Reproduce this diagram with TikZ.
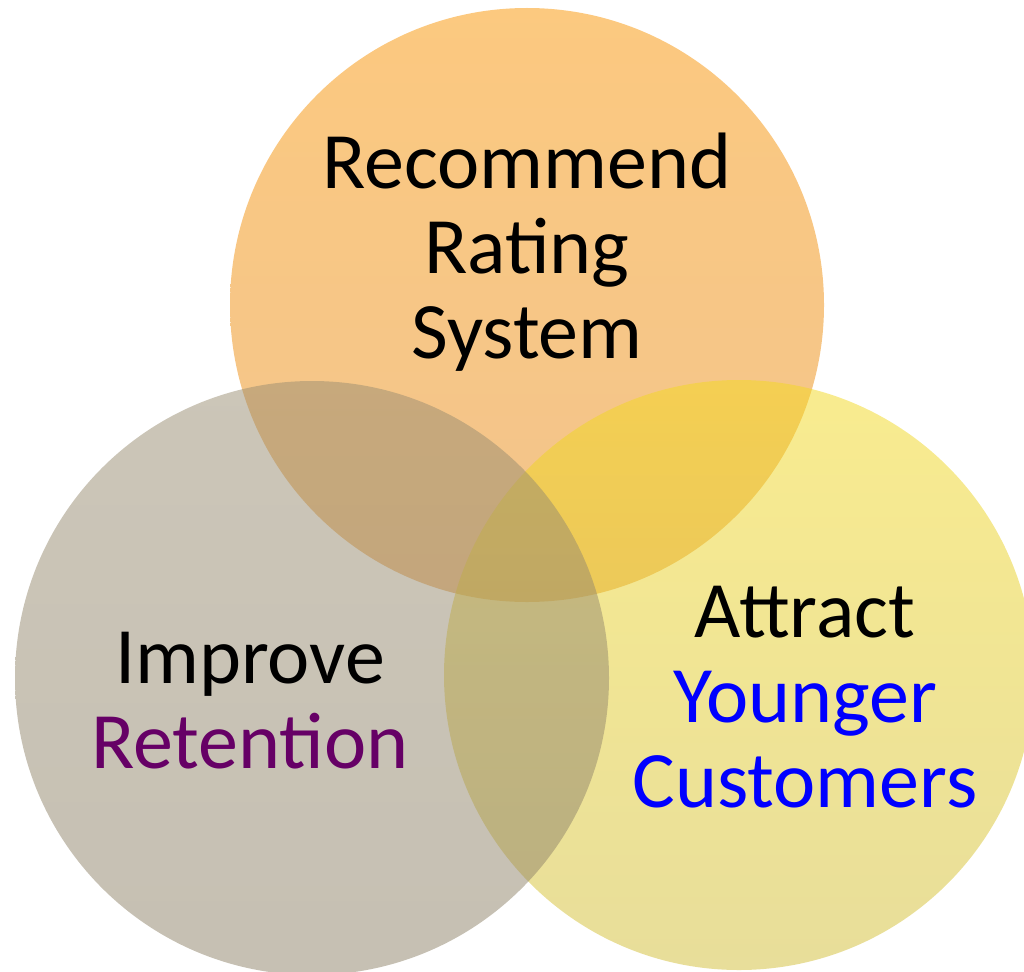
\documentclass[tikz,border=0pt]{standalone}
\usepackage{fontspec}
\setmainfont{Carlito}
\begin{document}
% three overlapping goal circles, each a translucent vertical gradient
\definecolor{orangeTop}{RGB}{249,147,0}
\definecolor{orangeBot}{RGB}{229,137,27}
\definecolor{yellowTop}{RGB}{243,217,31}
\definecolor{yellowBot}{RGB}{209,189,53}
\definecolor{grayTop}{RGB}{153,141,113}
\definecolor{grayBot}{RGB}{141,129,103}
\definecolor{retention}{RGB}{102,0,102}
\definecolor{younger}{RGB}{0,0,255}
\begin{tikzpicture}[x=1pt,y=-1pt,
  goal/.style={fill opacity=0.5},
  label/.style={align=center,inner sep=0pt,anchor=base,
    font=\fontsize{80}{85}\selectfont}]
\useasboundingbox (0,0) rectangle (1024,971);
% circles: orange first, then yellow, then gray on top
\shade[goal,top color=orangeTop,bottom color=orangeBot]
  (527,305) circle[radius=297pt];
\shade[goal,top color=yellowTop,bottom color=yellowBot]
  (739,675) circle[radius=295pt];
\shade[goal,top color=grayTop,bottom color=grayBot]
  (312,678) circle[radius=297pt];
% labels (anchored at the baseline of their last line)
\node[label] (rating) at (527,358) {Recommend\\Rating\\System};
\node[label] (retention) at (250,768) {Improve\\\textcolor{retention}{Retention}};
\node[label] (younger) at (805,807) {Attract\\\textcolor{younger}{Younger}\\\textcolor{younger}{Customers}};
\end{tikzpicture}
\end{document}
